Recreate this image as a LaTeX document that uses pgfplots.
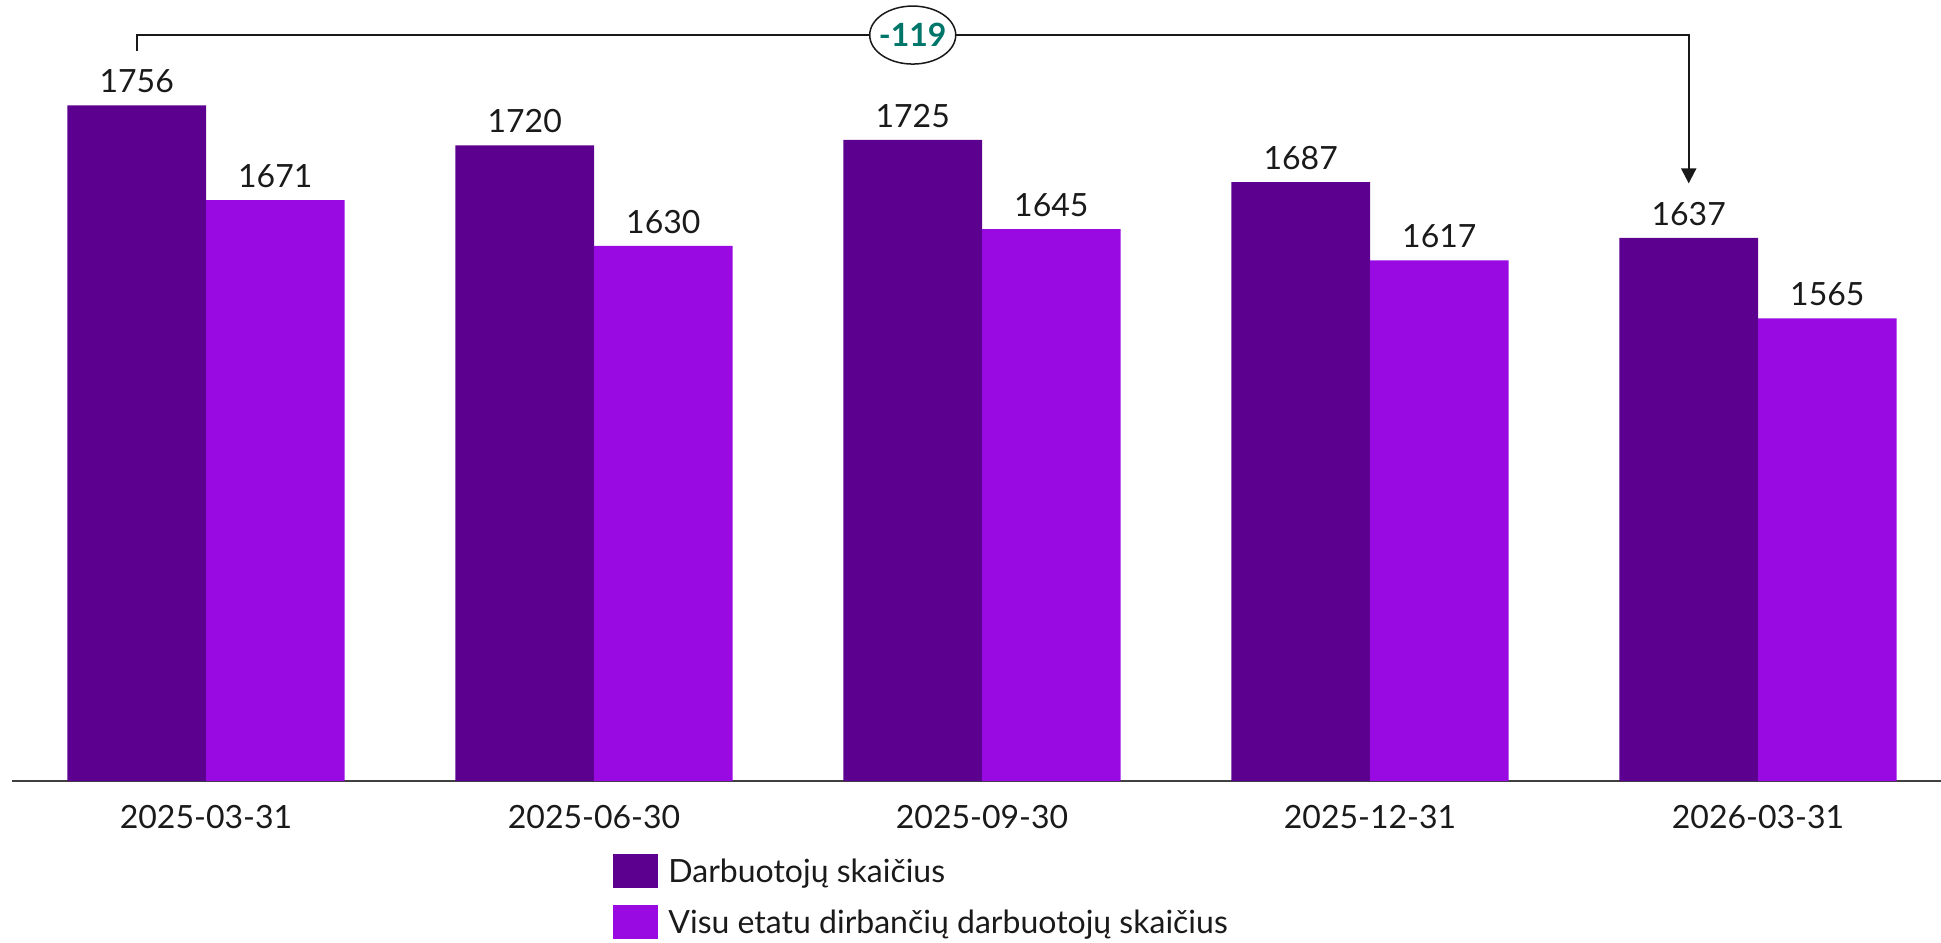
\documentclass[border=0pt]{standalone}
\usepackage{fontspec}
\setmainfont{Lato}
\usepackage{pgfplots}
\pgfplotsset{compat=1.18}
\usetikzlibrary{arrows.meta}
\definecolor{deeppurple}{RGB}{92,0,144}
\definecolor{corepurple}{RGB}{153,10,227}
\definecolor{tealnum}{RGB}{0,117,106}
\definecolor{inktext}{RGB}{26,26,26}

\begin{document}
\begin{tikzpicture}
\path[use as bounding box] (0,0) rectangle (970.5pt,471pt);
\begin{axis}[
  at={(6pt,80.5pt)}, anchor=south west,
  x=194pt, y=0.5575pt,
  xmin=-0.5, xmax=4.472,
  ymin=1150, ymax=1850,
  clip=false,
  ybar=0pt,
  bar width=69.3pt,
  hide y axis,
  axis x line=bottom,
  x axis line style={-, draw=black!75, line width=1pt},
  xtick={0,1,2,3,4},
  xticklabels={2025-03-31, 2025-06-30, 2025-09-30, 2025-12-31, 2026-03-31},
  xtick style={draw=none},
  xticklabel style={anchor=north, inner sep=0pt, yshift=-9.75pt,
    font=\fontsize{16}{19}\selectfont, text=inktext},
  /pgf/number format/assume math mode=true,
  /pgf/number format/1000 sep={},
  nodes near coords,
  every node near coord/.append style={anchor=south, inner sep=0pt, yshift=6pt,
    font=\fontsize{16}{19}\selectfont, text=inktext},
  legend style={
    at={(axis cs:1.049,1084.5)}, anchor=north west,
    draw=none, fill=none, inner sep=0pt,
    row sep=8.2pt, column sep=5pt,
    font=\fontsize{16}{19}\selectfont, text=inktext,
    nodes={inner sep=0pt, text height=11.5pt, text depth=3.5pt},
  },
  legend cell align=left,
  legend image code/.code={\fill[#1] (0pt,-7.2pt) rectangle (22.5pt,9.8pt);},
]
\addplot[fill=deeppurple, draw=none] coordinates {
  (0,1756) (1,1720) (2,1725) (3,1687) (4,1637)
};
\addplot[fill=corepurple, draw=none] coordinates {
  (0,1671) (1,1630) (2,1645) (3,1617) (4,1565)
};
\legend{Darbuotojų skaičius, Visu etatu dirbančių darbuotojų skaičius}

% bracket showing the change over the year
\draw[line width=1pt, black!90, line join=miter]
  (axis cs:-0.1786,1805) -- (axis cs:-0.1786,1819) -- (axis cs:3.8214,1819)
  -- (axis cs:3.8214,1700);
\draw[line width=1pt, black!90, -{Triangle[width=7.5pt,length=7.5pt]}]
  (axis cs:3.8214,1710) -- (axis cs:3.8214,1686);
\filldraw[fill=white, draw=black!90, line width=0.75pt]
  (axis cs:1.8214,1819) ellipse [x radius=21.5pt, y radius=14.5pt];
\node[inner sep=0pt, text=tealnum, font=\fontsize{16}{19}\selectfont\bfseries]
  at (axis cs:1.8214,1819) {-119};
\end{axis}
\end{tikzpicture}
\end{document}
